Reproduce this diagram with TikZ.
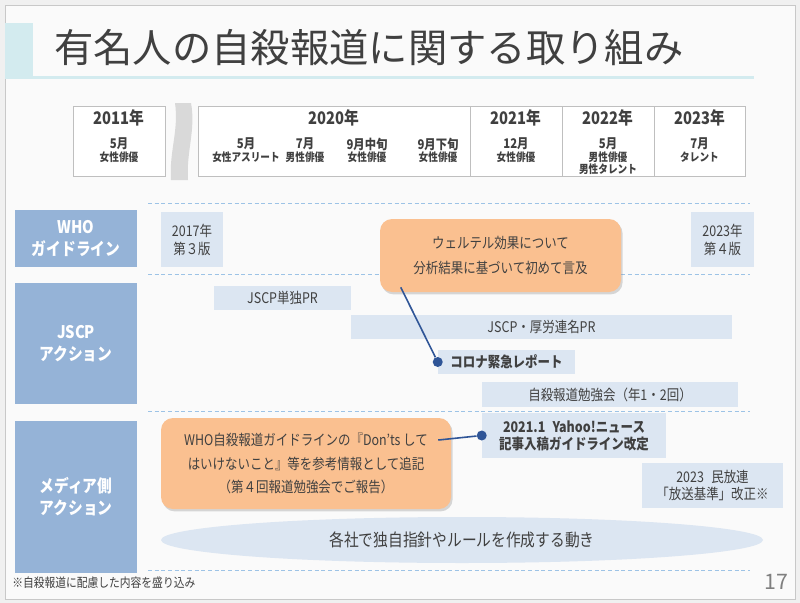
\documentclass[tikz,border=0pt]{standalone}
\usepackage{fontspec}
\setmainfont{Noto Sans CJK JP}
\newfontfamily\jpn[FakeStretch=0.85]{Noto Sans CJK JP}
\usetikzlibrary{shapes.geometric,shadows}

\definecolor{outerbg}{HTML}{F0F0F0}
\definecolor{slidebg}{HTML}{FAFAFA}
\definecolor{slideedge}{HTML}{C8C8C8}
\definecolor{headteal}{HTML}{D3EBEF}
\definecolor{txt}{HTML}{404040}
\definecolor{cellgray}{HTML}{BFBFBF}
\definecolor{bracketgray}{HTML}{D9D9D9}
\definecolor{rowblue}{HTML}{9DC3E6}
\definecolor{sideblue}{HTML}{95B3D7}
\definecolor{paleblue}{HTML}{DCE6F2}
\definecolor{noteorange}{HTML}{FAC090}
\definecolor{linkblue}{HTML}{2F5597}
\definecolor{pagegray}{HTML}{808080}

\tikzset{
  sz/.style 2 args={minimum width=#1*0.75pt,minimum height=#2*0.75pt},
  cell/.style={draw=cellgray,fill=white,line width=0.75pt,inner sep=0pt},
  yr/.style={text=txt,inner sep=0pt,font=\jpn\fontsize{13}{15}\selectfont\bfseries},
  mon/.style={text=txt,inner sep=0pt,font=\jpn\fontsize{10}{12}\selectfont\bfseries},
  role/.style={text=txt,inner sep=0pt,font=\jpn\fontsize{8.5}{10}\selectfont\bfseries},
  rowline/.style={draw=rowblue,line width=0.75pt,dash pattern=on 3pt off 2pt},
  side/.style={fill=sideblue,text=white,inner sep=0pt,align=center,font=\jpn\fontsize{13}{16.5}\selectfont\bfseries},
  pale/.style={fill=paleblue,text=txt,inner sep=0pt,align=center,font=\jpn\fontsize{11}{13.5}\selectfont},
  palebf/.style={pale,font=\jpn\fontsize{11}{12.75}\selectfont\bfseries},
  note/.style={fill=noteorange,rounded corners=9pt,text=txt,align=center,inner sep=0pt,
    drop shadow={opacity=0.3,shadow xshift=1.2pt,shadow yshift=-1.8pt}},
  link/.style={draw=linkblue,line width=1.2pt},
  dot/.style={circle,fill=linkblue,inner sep=0pt,minimum size=7.5pt}
}

\begin{document}
\begin{tikzpicture}[x=0.75pt,y=-0.75pt]
  \useasboundingbox (0,0) rectangle (800,603);
  \fill[outerbg] (0,0) rectangle (800,603);
  \draw[slideedge,fill=slidebg] (5,5) rectangle (795,599);
  \fill[headteal] (5,23) rectangle (33,78);
  \fill[headteal] (5,75.5) rectangle (754,78.5);
  \node[anchor=west,inner sep=0pt,text=txt,font=\fontsize{29.5}{32}\selectfont] (title) at (54,48) {有名人の自殺報道に関する取り組み};

  % year table
  \node[cell,sz={92}{70}] (y2011) at (119,141) {};
  \node[cell,sz={272}{70}] (y2020) at (334,141) {};
  \node[cell,sz={92}{70}] (y2021) at (516,141) {};
  \node[cell,sz={92}{70}] (y2022) at (608,141) {};
  \node[cell,sz={91}{70}] (y2023) at (699.5,141) {};
  \fill[bracketgray] (175,103) .. controls (179,130) and (169,152) .. (171,180) -- (188,180) .. controls (186,152) and (196,130) .. (191,103) -- cycle;
  \foreach \x/\t [count=\i] in {119/2011年,334/2020年,516/2021年,608/2022年,699.5/2023年}
    \node[yr] (yr\i) at (\x,118) {\t};
  \foreach \x/\m/\r [count=\i] in {119/5月/女性俳優,246/5月/女性アスリート,305/7月/男性俳優,367/9月中旬/女性俳優,438/9月下旬/女性俳優,516/12月/女性俳優,608/5月/男性俳優,699.5/7月/タレント}
  {
    \node[mon] (mo\i) at (\x,144) {\m};
    \node[role] (ro\i) at (\x,157) {\r};
  }
  \node[role] (ro9) at (608,169) {男性タレント};

  \foreach \y in {203,274,411,570}
    \draw[rowline] (148,\y) -- (750,\y);

  % rows
  \node[side,sz={122}{57}] (who) at (76,238.5) {WHO\\ガイドライン};
  \node[side,sz={122}{121}] (jscp) at (76,343.5) {JSCP\\アクション};
  \node[side,sz={122}{152}] (media) at (76,497) {メディア側\\アクション};

  \node[pale,sz={62}{55}] (v2017) at (192,239.5) {2017年\\第３版};
  \node[pale,sz={63}{55}] (v2023) at (722.5,239.5) {2023年\\第４版};
  \node[pale,sz={137}{24}] (prsolo) at (282.5,298) {JSCP単独PR};
  \node[pale,sz={381}{24}] (prjoint) at (541.5,327) {JSCP・厚労連名PR};
  \node[palebf,sz={137}{24}] (corona) at (506.5,362) {コロナ緊急レポート};
  \node[pale,sz={256}{25}] (study) at (610,394.5) {自殺報道勉強会（年1・2回）};
  \node[palebf,sz={184}{45}] (yahoo) at (574,435.5) {2021.1\hspace{0.5em}Yahoo!ニュース\\記事入稿ガイドライン改定};
  \node[pale,sz={141}{45},font=\jpn\fontsize{11}{12.75}\selectfont] (minpo) at (712.5,485.5) {2023\hspace{0.5em}民放連\\「放送基準」改正※};
  \node[pale,ellipse,sz={602}{46},font=\jpn\fontsize{13}{15}\selectfont] (trend) at (462,540) {各社で独自指針やルールを作成する動き};

  \node[note,sz={241}{73},font=\jpn\fontsize{11}{18.75}\selectfont] (werther) at (500.5,255.5) {ウェルテル効果について\\分析結果に基づいて初めて言及};
  \node[note,sz={290}{91},font=\jpn\fontsize{11}{17.6}\selectfont] (whonote) at (306,463.5) {WHO自殺報道ガイドラインの『Don’ts して\\はいけないこと』等を参考情報として追記\\（第４回報道勉強会でご報告）};

  \node[dot] (d1) at (corona.west) {};
  \draw[link] ([xshift=15.75pt,yshift=3.75pt]werther.south west) -- (d1);
  \node[dot] (d2) at (yahoo.west) {};
  \draw[link] ([xshift=-9.75pt,yshift=17.6pt]whonote.east) -- (d2);

  \node[anchor=west,inner sep=0pt,text=txt,font=\jpn\fontsize{9.5}{11}\selectfont] (foot) at (12,583) {※自殺報道に配慮した内容を盛り込み};
  \node[inner sep=0pt,text=pagegray,font=\fontsize{16}{18}\selectfont] (page) at (776,582) {17};
\end{tikzpicture}
\end{document}
